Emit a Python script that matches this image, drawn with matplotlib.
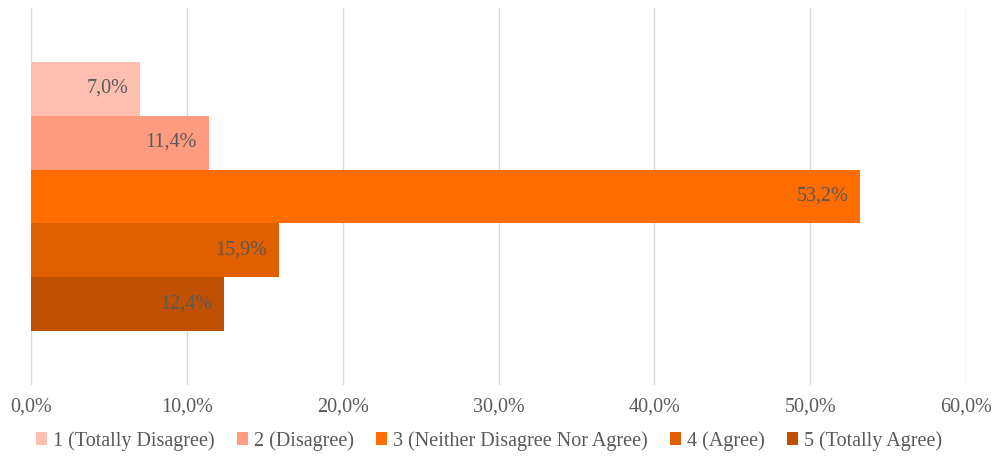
import matplotlib
matplotlib.use("Agg")
import matplotlib.pyplot as plt
from matplotlib.ticker import FuncFormatter
from matplotlib.patches import Patch

series = ["1 (Totally Disagree)", "2 (Disagree)", "3 (Neither Disagree Nor Agree)", "4 (Agree)", "5 (Totally Agree)"]
values = [7.0, 11.4, 53.2, 15.9, 12.4]
colors = ["#FFBFB0", "#FF9C80", "#FF6D00", "#E06000", "#BF5000"]
xticks = [0, 10, 20, 30, 40, 50, 60]

plt.rcParams['font.family'] = ['Liberation Serif', 'DejaVu Serif']
txt = "#595959"

fig = plt.figure(figsize=(9.93, 4.61), dpi=100)
ax = fig.add_axes([31/993, 1-385/461, (966-31)/993, (385-8)/461])

h = 0.1432
n = len(values)
for i, (v, c) in enumerate(zip(values, colors)):
    y = (n - 1) / 2 * h - i * h
    ax.barh(y, v, height=h, color=c, edgecolor='none', zorder=3)
    ax.text(v - 0.75, y, f"{v:.1f}%".replace('.', ','), ha='right', va='center',
            color=txt, fontsize=14.5, zorder=4)

ax.set_xlim(0, 60)
ax.set_ylim(-0.5, 0.5)
ax.set_xticks(xticks)
ax.xaxis.set_major_formatter(FuncFormatter(lambda x, p: f"{x:.1f}%".replace('.', ',')))
ax.set_yticks([])
ax.tick_params(axis='x', length=0, pad=9, labelsize=14.5, labelcolor=txt)
for s in ax.spines.values():
    s.set_visible(False)
ax.grid(axis='x', color='#D9D9D9', linewidth=1, zorder=0)

handles = [Patch(facecolor=c, edgecolor='none', label=s) for s, c in zip(series, colors)]
fig.legend(handles=handles, loc='center', bbox_to_anchor=(0.4925, 1-441/461), ncol=5,
           frameon=False, fontsize=14.5, labelcolor=txt, handlelength=0.55, handleheight=0.6,
           handletextpad=0.3, columnspacing=1.1)

fig.savefig("out.png", dpi=100)
